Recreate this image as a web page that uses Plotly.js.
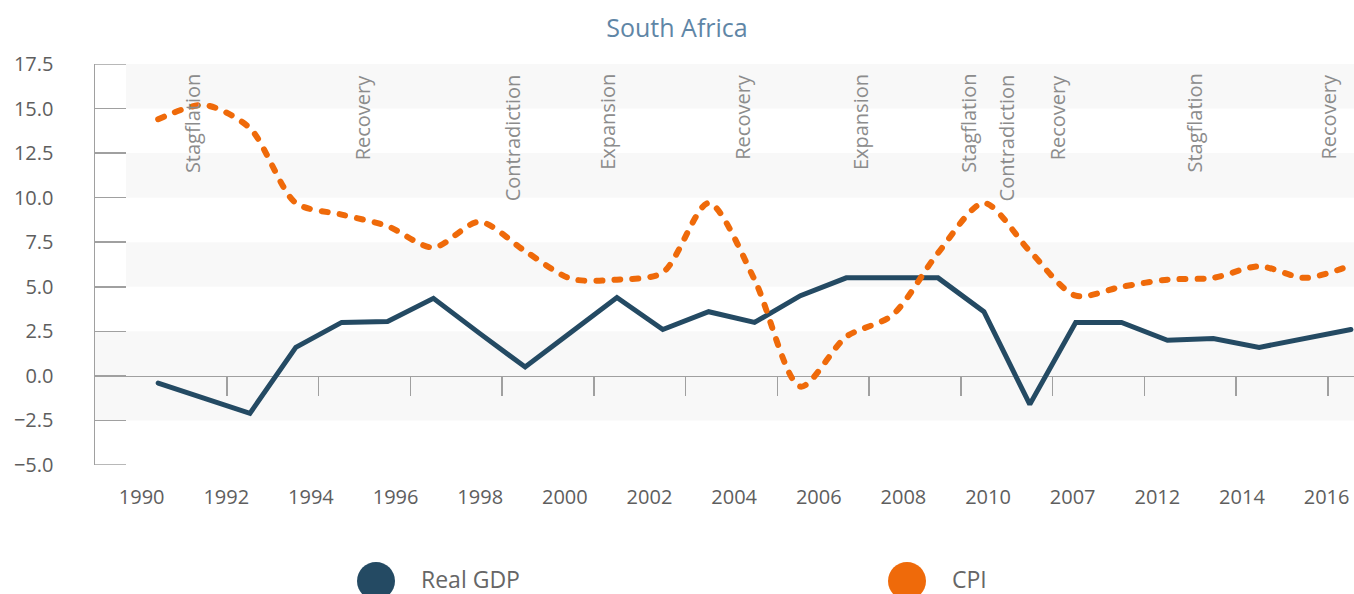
<!DOCTYPE html>
<html>
<head>
<meta charset="utf-8">
<script src="https://cdn.plot.ly/plotly-3.0.1.min.js"></script>
<style>
html,body{margin:0;padding:0;background:#fff;}
#chart{width:1354px;height:594px;}
.js-line{stroke-linecap:round;}
</style>
</head>
<body>
<div id="chart"></div>
<script>
// ---- data ----
var years = [1990,1991,1992,1993,1994,1995,1996,1997,1998,1999,2000,2001,2002,2003,2004,2005,2006,2007,2008,2009,2010,2011,2012,2013,2014,2015,2016];
var realGDP = [-0.4,-1.25,-2.1,1.6,3.0,3.05,4.35,2.4,0.5,2.45,4.4,2.6,3.6,3.0,4.5,5.5,5.5,5.5,3.6,-1.6,3.0,3.0,2.0,2.1,1.6,2.1,2.6];
var cpi = [14.4,15.2,13.9,9.7,9.05,8.4,7.2,8.65,7.0,5.45,5.4,5.8,9.7,5.4,-0.6,2.2,3.4,6.9,9.7,7.0,4.5,5.0,5.4,5.5,6.15,5.5,6.2];
var seriesNames = ['Real GDP','CPI'];
var seriesColors = ['#244a63','#ef6a0a'];
var xTickLabels = ['1990','1992','1994','1996','1998','2000','2002','2004','2006','2008','2010','2007','2012','2014','2016'];
var phaseLabels = ['Stagflation','Recovery','Contradiction','Expansion','Recovery','Expansion','Stagflation','Contradiction','Recovery','Stagflation','Recovery'];
var phaseYears = [1990.75,1994.45,1997.73,1999.78,2002.72,2005.3,2007.66,2008.5,2009.6,2012.58,2015.49];

// ---- layout helpers ----
var xRange = [1988.623, 2016.067];
var yRange = [-5, 17.5];
var tickVals = [];
for (var t = years[0] + 1.5; t < years[years.length-1]; t += 2) tickVals.push(t);
var labelStart = 1989.64, labelStep = 1.845;
var labelVals = xTickLabels.map(function(_, i){ return labelStart + i*labelStep; });

var font = 'Open Sans, Lato, sans-serif';
var gray = '#a0a0a0';
var tickFrac = 31/1259;

var traces = [
  {x: years, y: realGDP, type: 'scatter', mode: 'lines', name: seriesNames[0],
   line: {color: seriesColors[0], width: 5}, xaxis: 'x', yaxis: 'y', showlegend: false},
  {x: years, y: cpi, type: 'scatter', mode: 'lines', name: seriesNames[1],
   line: {color: seriesColors[1], width: 6, dash: '6px,12px', shape: 'spline', smoothing: 0.8},
   xaxis: 'x', yaxis: 'y', showlegend: false},
  // invisible helper so the label axis is drawn
  {x: [years[0]], y: [null], type: 'scatter', mode: 'lines', xaxis: 'x2', yaxis: 'y', showlegend: false,
   hoverinfo: 'skip', line: {width: 0}}
];

var shapes = [];
var bands = [[15,17.5,true],[10,12.5,true],[5,7.5,true],[-2.5,2.5,false]];
bands.forEach(function(b){
  shapes.push({type:'rect', xref:'paper', yref:'y', x0: b[2] ? tickFrac : 0, x1: 1, y0: b[0], y1: b[1],
    fillcolor:'#f8f8f8', line:{width:0}, layer:'below'});
});
// end ticks of the y axis (Plotly drops inside ticks at the range ends)
yRange.forEach(function(v){
  shapes.push({type:'line', xref:'paper', yref:'y', x0: 0, x1: tickFrac, y0: v, y1: v,
    line:{color: gray, width: 1.5}, layer:'below'});
});

var annotations = phaseLabels.map(function(txt, i){
  return {text: txt, x: phaseYears[i], xref: 'x', y: 0.98, yref: 'paper', xanchor: 'center', yanchor: 'top',
    textangle: -90, showarrow: false, font: {family: font, size: 20, color: '#8c8c8c'}};
});

// manual legend
var legendX = [376, 907];
legendX.forEach(function(px, i){
  shapes.push({type:'circle', xref:'paper', yref:'paper', xsizemode:'pixel', ysizemode:'pixel',
    xanchor: (px-95)/1259, yanchor: (465-581)/401, x0:-19, x1:19, y0:-19, y1:19,
    fillcolor: seriesColors[i], line:{width:0}});
  annotations.push({text: seriesNames[i], xref:'paper', yref:'paper', x: (px+43-95)/1259, y: (465-579)/401,
    xanchor:'left', yanchor:'middle', showarrow:false, font:{family: font, size: 23, color:'#666'}});
});

var layout = {
  width: 1354, height: 594,
  margin: {l: 95, r: 0, t: 64, b: 129},
  paper_bgcolor: '#fff', plot_bgcolor: 'rgba(0,0,0,0)',
  title: {text: 'South Africa', x: 0.5, xref: 'container', y: 1 - 28/594, yref: 'container', yanchor: 'middle',
    font: {family: font, size: 25, color: '#5f86a6'}},
  showlegend: false,
  xaxis: {range: xRange, anchor: 'free', position: (0 - yRange[0]) / (yRange[1] - yRange[0]),
    tickmode: 'array', tickvals: tickVals, showticklabels: false, ticks: 'outside', ticklen: 19,
    tickcolor: gray, tickwidth: 1.5, showline: true, linecolor: gray, linewidth: 1.5, showgrid: false,
    zeroline: false, layer: 'below traces', fixedrange: true},
  xaxis2: {range: xRange, overlaying: 'x', anchor: 'y', side: 'bottom', tickmode: 'array',
    tickvals: labelVals, ticktext: xTickLabels, ticks: '', showline: false, showgrid: false, zeroline: false,
    ticklabelstandoff: 18, tickfont: {family: font, size: 20, color: '#5e5e5e'}},
  yaxis: {range: yRange, tickmode: 'linear', tick0: -5, dtick: 2.5, tickformat: '.1f',
    ticks: 'inside', ticklen: 31, tickcolor: gray, tickwidth: 1.5, showline: true, linecolor: gray, linewidth: 1.5,
    showgrid: false, zeroline: false, layer: 'below traces', ticklabelstandoff: 36,
    tickfont: {family: font, size: 20, color: '#5e5e5e'}},
  shapes: shapes,
  annotations: annotations
};

Plotly.newPlot('chart', traces, layout, {staticPlot: true, displayModeBar: false});
</script>
</body>
</html>
